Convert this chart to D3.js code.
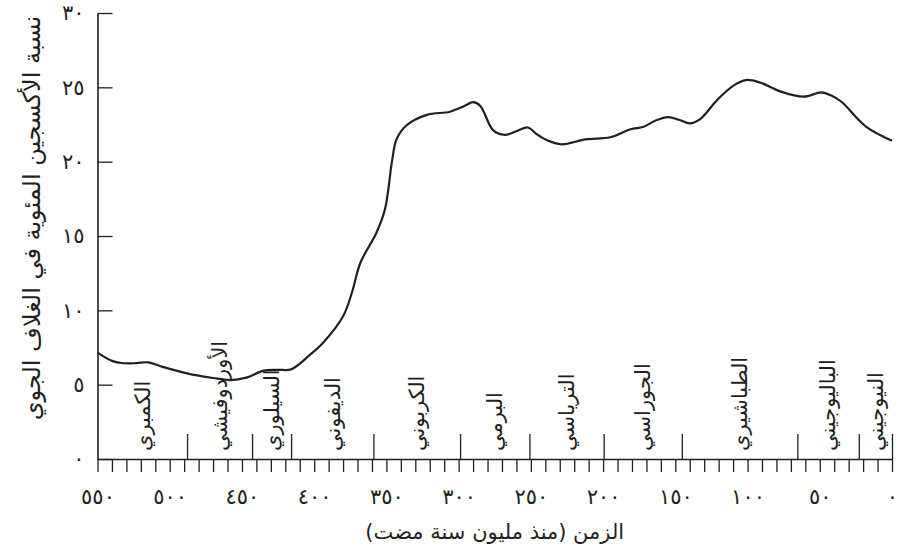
<!DOCTYPE html>
<html lang="ar">
<head>
<meta charset="utf-8">
<script src="https://cdn.jsdelivr.net/npm/d3@7"></script>
<style>
  html, body { margin: 0; padding: 0; background: #fff; }
  svg { display: block; }
  text { font-family: "DejaVu Sans", "Noto Sans", sans-serif; fill: #231f20; }
</style>
</head>
<body>
<svg id="chart" width="899" height="552"></svg>
<script>
// Atmospheric oxygen over the Phanerozoic (million years ago, percent)
const timeMya = [550, 540, 532, 523, 515, 505, 488, 470, 458, 447, 435, 425, 416, 403, 394,
  380, 374, 368, 357, 351, 346, 343, 336, 322, 306, 296, 290, 285, 276, 268, 260, 252, 246,
  239, 229, 212, 195, 181, 172, 164, 155, 147, 140, 133, 121, 110, 101, 91, 77, 61, 49, 42,
  35, 18, 0];
const oxygenPct = [7.15, 6.6, 6.44, 6.45, 6.5, 6.2, 5.76, 5.45, 5.31, 5.47, 5.94, 6.0, 6.03,
  7.0, 7.8, 9.6, 11.15, 13.2, 15.2, 16.8, 20.1, 21.5, 22.45, 23.15, 23.36, 23.75, 24.0, 23.75,
  22.1, 21.8, 22.05, 22.3, 21.85, 21.45, 21.17, 21.5, 21.64, 22.18, 22.35, 22.75, 23.0, 22.8,
  22.58, 22.85, 24.15, 25.1, 25.49, 25.31, 24.71, 24.37, 24.66, 24.45, 24.03, 22.35, 21.4];

// Geological periods and their boundaries (older edge of each period)
const periodNames = ["الكمبري", "الأوردوفيشي", "السيلوري", "الديفوني", "الكربوني", "البرمي",
  "الترياسي", "الجوراسي", "الطباشيري", "الباليوجيني", "النيوجيني"];
const periodStart = [550, 488, 443, 416, 359, 299, 251, 199.6, 145.5, 65.5, 23];
const periodEnd = [488, 443, 416, 359, 299, 251, 199.6, 145.5, 65.5, 23, 0];

// Axis ticks and their Arabic-Indic labels
const xTickValues = [550, 500, 450, 400, 350, 300, 250, 200, 150, 100, 50, 0];
const xTickLabels = ["٥٥٠", "٥٠٠", "٤٥٠", "٤٠٠", "٣٥٠", "٣٠٠", "٢٥٠", "٢٠٠", "١٥٠", "١٠٠", "٥٠", "٠"];
const yTickValues = [0, 5, 10, 15, 20, 25, 30];
const yTickLabels = ["٠", "٥", "١٠", "١٥", "٢٠", "٢٥", "٣٠"];

const xTitle = "الزمن (منذ مليون سنة مضت)";
const yTitle = "نسبة الأكسجين المئوية في الغلاف الجوي";

const svg = d3.select("#chart");
const x = d3.scaleLinear().domain([550, 0]).range([97.5, 892]);
const y = d3.scaleLinear().domain([0, 30]).range([459, 13]);
const ink = "#231f20";

// Minor ticks every 10 million years, below the time axis
const minorTicks = d3.range(550, -1, -10);
const gMinor = svg.append("g").attr("transform", `translate(0,${y(0)})`)
  .call(d3.axisBottom(x).tickValues(minorTicks).tickSizeInner(13).tickSizeOuter(0).tickFormat(""));
gMinor.select(".domain").attr("stroke", ink).attr("stroke-width", 1.6);
gMinor.selectAll(".tick line").attr("stroke", ink).attr("stroke-width", 1.3);

// Labelled ticks of the time axis
const gXLabels = svg.append("g").attr("transform", `translate(0,${y(0)})`)
  .call(d3.axisBottom(x).tickValues(xTickValues).tickSize(0).tickPadding(30)
    .tickFormat((d, i) => xTickLabels[i]));
gXLabels.select(".domain").remove();
gXLabels.selectAll("text").attr("font-size", 21).attr("fill", ink)
  .style("font-family", "'DejaVu Sans', sans-serif");

// Period boundary marks above the time axis
const gBounds = svg.append("g").attr("transform", `translate(0,${y(0)})`)
  .call(d3.axisTop(x).tickValues(periodEnd).tickSizeInner(25).tickSizeOuter(0).tickFormat(""));
gBounds.select(".domain").remove();
gBounds.selectAll(".tick line").attr("stroke", ink).attr("stroke-width", 1.3);

// Oxygen axis, ticks pointing into the plot
const gY = svg.append("g").attr("transform", `translate(${x(550)},0)`)
  .call(d3.axisLeft(y).tickValues(yTickValues).tickSizeInner(-15).tickSizeOuter(0).tickPadding(13)
    .tickFormat((d, i) => yTickLabels[i]));
gY.select(".domain").attr("stroke", ink).attr("stroke-width", 1.6);
gY.selectAll(".tick line").attr("stroke", ink).attr("stroke-width", 1.3);
gY.selectAll("text").attr("font-size", 21).attr("fill", ink)
  .style("font-family", "'DejaVu Sans', sans-serif");

// Period names, written vertically in the middle of each interval
svg.append("g").selectAll("text")
  .data(periodNames)
  .join("text")
  .attr("transform", (d, i) => `translate(${x((periodStart[i] + periodEnd[i]) / 2)},451) rotate(-90)`)
  .attr("text-anchor", "start")
  .attr("dy", "0.35em")
  .attr("font-size", 21)
  .text(d => d);

// Oxygen curve
const line = d3.line()
  .x((d, i) => x(timeMya[i]))
  .y((d, i) => y(oxygenPct[i]))
  .curve(d3.curveCatmullRom.alpha(0.5));
svg.append("path")
  .datum(oxygenPct)
  .attr("d", line)
  .attr("fill", "none")
  .attr("stroke", ink)
  .attr("stroke-width", 2.2)
  .attr("stroke-linejoin", "round");

// Axis titles
svg.append("text")
  .attr("x", (x(550) + x(0)) / 2)
  .attr("y", 539)
  .attr("text-anchor", "middle")
  .attr("font-size", 21)
  .text(xTitle);

svg.append("text")
  .attr("transform", `translate(32,${(y(0) + y(30)) / 2 - 18}) rotate(-90)`)
  .attr("text-anchor", "middle")
  .attr("dy", "0.35em")
  .attr("font-size", 24)
  .text(yTitle);
</script>
</body>
</html>
